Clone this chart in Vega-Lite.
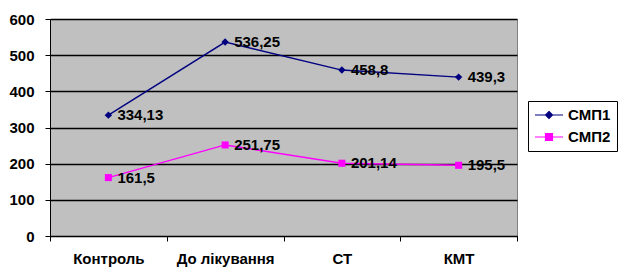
{
  "$schema": "https://vega.github.io/schema/vega-lite/v6.json",
  "width": 467,
  "height": 217,
  "autosize": "none",
  "padding": {"left": 50, "top": 19, "right": 104, "bottom": 31},
  "background": "white",
  "config": {
    "view": {"fill": "#C0C0C0", "stroke": "#808080", "strokeWidth": 1},
    "font": "Liberation Sans",
    "axis": {"labelFontWeight": "bold", "labelFontSize": 15, "labelColor": "black"},
    "locale": {"number": {"decimal": ",", "thousands": " ", "grouping": [3], "currency": ["", ""]}}
  },
  "data": {
    "values": [
      {"group": "Контроль", "series": "СМП1", "value": 334.13},
      {"group": "До лікування", "series": "СМП1", "value": 536.25},
      {"group": "СТ", "series": "СМП1", "value": 458.8},
      {"group": "КМТ", "series": "СМП1", "value": 439.3},
      {"group": "Контроль", "series": "СМП2", "value": 161.5},
      {"group": "До лікування", "series": "СМП2", "value": 251.75},
      {"group": "СТ", "series": "СМП2", "value": 201.14},
      {"group": "КМТ", "series": "СМП2", "value": 195.5}
    ]
  },
  "encoding": {
    "x": {
      "field": "group", "type": "nominal",
      "sort": ["Контроль", "До лікування", "СТ", "КМТ"],
      "scale": {"type": "band", "paddingInner": 0, "paddingOuter": 0},
      "axis": {
        "title": null, "labelAngle": 0, "tickBand": "extent",
        "domainColor": "black", "tickColor": "black", "tickSize": 5,
        "labelFontSize": 15, "labelFontWeight": "bold", "labelColor": "black",
        "labelPadding": 10, "grid": false
      }
    },
    "y": {
      "field": "value", "type": "quantitative",
      "scale": {"domain": [0, 600], "nice": false},
      "axis": {
        "title": null, "values": [0, 100, 200, 300, 400, 500, 600],
        "domainColor": "black", "tickColor": "black", "tickSize": 5,
        "gridColor": "black", "gridOpacity": 1, "gridWidth": 1.3,
        "labelFontSize": 15, "labelFontWeight": "bold", "labelColor": "black",
        "labelPadding": 11,
        "encode": {"labels": {"update": {"fontWeight": {"value": "bold"}}}}
      }
    },
    "color": {
      "field": "series", "type": "nominal",
      "scale": {"domain": ["СМП1", "СМП2"], "range": ["#000080", "#FF00FF"]},
      "legend": {
        "title": null, "orient": "none", "legendX": 478, "legendY": 82,
        "strokeColor": "black", "fillColor": "white", "padding": 6,
        "labelFontSize": 15, "labelFontWeight": "bold", "labelColor": "black",
        "symbolSize": 196, "symbolOffset": 7, "labelOffset": 11, "rowPadding": 6,
        "encode": {
          "symbols": {
            "update": {
              "shape": {"signal": "datum.value === 'СМП1' ? 'M-2,0H2M0,-0.5L0.5,0L0,0.5L-0.5,0Z' : 'M-2,0H2M-0.5,-0.5H0.5V0.5H-0.5Z'"},
              "fill": {"signal": "datum.value === 'СМП1' ? '#000080' : '#FF00FF'"},
              "stroke": {"signal": "datum.value === 'СМП1' ? '#000080' : '#FF00FF'"},
              "strokeWidth": {"value": 1.2},
              "fillOpacity": {"value": 1},
              "opacity": {"value": 1}
            }
          }
        }
      }
    }
  },
  "layer": [
    {"mark": {"type": "line", "strokeWidth": 1.4}},
    {
      "transform": [{"filter": "datum.series === 'СМП1'"}],
      "mark": {"type": "point", "filled": true, "opacity": 1, "shape": "diamond", "size": 55}
    },
    {
      "transform": [{"filter": "datum.series === 'СМП2'"}],
      "mark": {"type": "point", "filled": true, "opacity": 1, "shape": "square", "size": 50}
    },
    {
      "mark": {"type": "text", "align": "left", "baseline": "middle", "dx": 9, "fontSize": 15, "fontWeight": "bold"},
      "encoding": {
        "text": {"field": "value", "type": "quantitative", "format": "~f"},
        "color": {"value": "black"}
      }
    }
  ]
}
